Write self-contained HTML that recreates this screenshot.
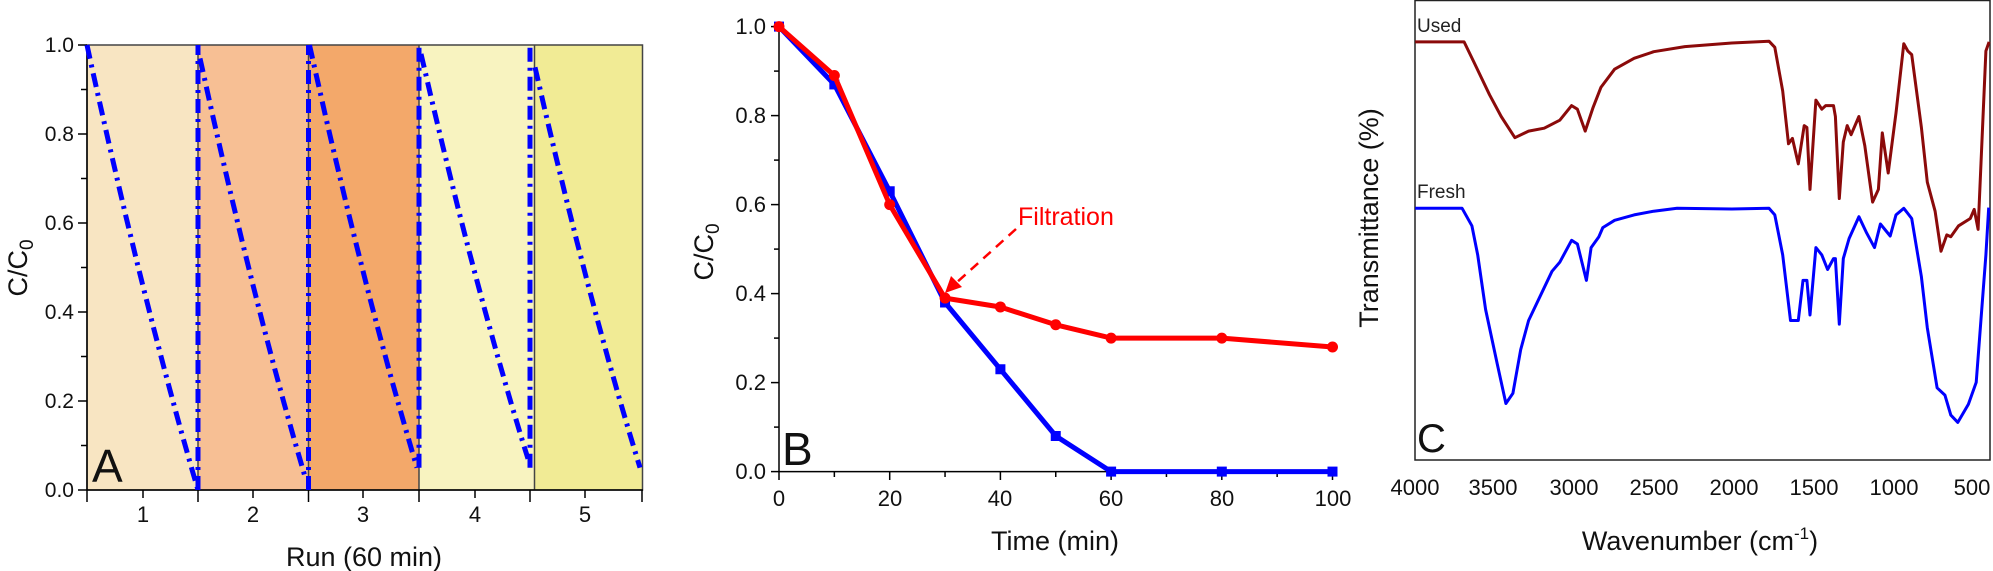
<!DOCTYPE html>
<html><head><meta charset="utf-8">
<style>
html,body{margin:0;padding:0;background:#fff;}
svg{display:block;font-family:"Liberation Sans",Arial,sans-serif;}
</style></head>
<body>
<svg id="s" width="1993" height="571" viewBox="0 0 1993 571" xmlns="http://www.w3.org/2000/svg">
<!-- Panel A backgrounds -->
<rect x="87" y="45" width="111" height="445" fill="#f8e5c2"/>
<rect x="198" y="45" width="110.5" height="445" fill="#f7bf94"/>
<rect x="308.5" y="45" width="110.5" height="445" fill="#f3a86a"/>
<rect x="419" y="45" width="111" height="445" fill="#f8f3c0"/>
<rect x="534.5" y="45" width="108" height="445" fill="#f1eb95"/>
<rect x="530" y="45" width="4.5" height="445" fill="#f8f3c0"/>
<g stroke="#444" stroke-width="1.5" fill="none">
<rect x="87" y="45" width="555.5" height="445"/>
<line x1="198" y1="45" x2="198" y2="490"/>
<line x1="308.5" y1="45" x2="308.5" y2="490"/>
<line x1="419" y1="45" x2="419" y2="490"/>
<line x1="534.5" y1="45" x2="534.5" y2="490"/>
</g>
<g id="aAxes" stroke="#000" stroke-width="1.5"></g>
<g id="aCurves" fill="none" stroke="#0000ff" stroke-width="5" stroke-dasharray="14,6,3,6"></g>
<g font-size="21" fill="#111" text-anchor="end">
<text x="74" y="52">1.0</text><text x="74" y="141">0.8</text><text x="74" y="230">0.6</text><text x="74" y="319">0.4</text><text x="74" y="408">0.2</text><text x="74" y="497">0.0</text>
</g>
<g font-size="22" fill="#111" text-anchor="middle">
<text x="143" y="522">1</text><text x="253" y="522">2</text><text x="363" y="522">3</text><text x="475" y="522">4</text><text x="585" y="522">5</text>
</g>
<text x="364" y="566" font-size="27" text-anchor="middle" fill="#111">Run (60 min)</text>
<text transform="translate(27,268) rotate(-90)" font-size="27" text-anchor="middle" fill="#111">C/C<tspan font-size="19" dy="6">0</tspan></text>
<text x="92" y="482" font-size="46" fill="#111">A</text>

<!-- Panel B -->
<g id="bAxes" stroke="#000" stroke-width="1.5"></g>
<g font-size="22" fill="#111" text-anchor="end">
<text x="766" y="34">1.0</text><text x="766" y="123">0.8</text><text x="766" y="212">0.6</text><text x="766" y="301">0.4</text><text x="766" y="390">0.2</text><text x="766" y="479">0.0</text>
</g>
<g font-size="22" fill="#111" text-anchor="middle">
<text x="779" y="506">0</text><text x="890" y="506">20</text><text x="1000" y="506">40</text><text x="1111" y="506">60</text><text x="1222" y="506">80</text><text x="1333" y="506">100</text>
</g>
<text x="1055" y="550" font-size="27" text-anchor="middle" fill="#111">Time (min)</text>
<text transform="translate(713,252) rotate(-90)" font-size="27" text-anchor="middle" fill="#111">C/C<tspan font-size="19" dy="6">0</tspan></text>
<text x="782" y="465" font-size="46" fill="#111">B</text>
<g id="bData"></g>
<text x="1018" y="225" font-size="25" fill="#ff0000">Filtration</text>
<line x1="1016" y1="229" x2="955" y2="284" stroke="#ff0000" stroke-width="2.5" stroke-dasharray="10,7"/>
<polygon points="945,293 951,276 962,287" fill="#ff0000"/>
<text transform="translate(1378,218) rotate(-90)" font-size="27" text-anchor="middle" fill="#111">Transmittance (%)</text>

<!-- Panel C -->
<rect x="1415" y="0.5" width="575" height="459.5" fill="none" stroke="#222" stroke-width="1.5"/>
<g id="cData" fill="none" stroke-width="3" stroke-linejoin="round"></g>
<text x="1417" y="32" font-size="19" fill="#222">Used</text>
<text x="1417" y="198" font-size="19" fill="#222">Fresh</text>
<text x="1417" y="452" font-size="40" fill="#111">C</text>
<g font-size="22" fill="#111" text-anchor="middle">
<text x="1415" y="495">4000</text><text x="1493" y="495">3500</text><text x="1574" y="495">3000</text><text x="1654" y="495">2500</text><text x="1734" y="495">2000</text><text x="1814" y="495">1500</text><text x="1894" y="495">1000</text><text x="1972" y="495">500</text>
</g>
<text x="1700" y="550" font-size="27" text-anchor="middle" fill="#111">Wavenumber (cm<tspan font-size="17" dy="-11">-1</tspan><tspan dy="11">)</tspan></text>
</svg>
<script>
var NS="http://www.w3.org/2000/svg";
function el(p,t,a){var e=document.createElementNS(NS,t);for(var k in a)e.setAttribute(k,a[k]);p.appendChild(e);return e;}
// Panel A axes
var aA=document.getElementById('aAxes');
el(aA,'line',{x1:87,y1:45,x2:87,y2:490});
el(aA,'line',{x1:87,y1:490,x2:643,y2:490});
for(var i=0;i<=10;i++){var y=490-i*44.5;el(aA,'line',{x1:i%2?81:78,y1:y,x2:87,y2:y});}
[87,143,198,253,308.5,363,419,475,530,585,642].forEach(function(x,i){el(aA,'line',{x1:x,y1:490,x2:x,y2:i%2?498:502});});
// Panel A curves
var aC=document.getElementById('aCurves');
function ay(v){return 490-445*v;}
var runs=[[87,198,1.0,0.0],[200,305,0.97,0.03],[309.5,417,1.0,0.05],[421,528,0.98,0.07],[535,640,0.95,0.05]];
runs.forEach(function(r){var d='';for(var k=0;k<=20;k++){var t=k/20;var v=r[2]-(r[2]-r[3])*(1.15*t-0.15*t*t);d+=(k?'L':'M')+(r[0]+(r[1]-r[0])*t).toFixed(1)+','+ay(v).toFixed(1);}el(aC,'path',{d:d});});
[[198,0,1],[308.5,0,1],[419,0.05,1],[530,0.05,1]].forEach(function(v){el(aC,'line',{x1:v[0],y1:ay(v[1]),x2:v[0],y2:ay(v[2])});});
// Panel B axes
var bA=document.getElementById('bAxes');
el(bA,'line',{x1:779,y1:24,x2:779,y2:472});
el(bA,'line',{x1:779,y1:471.6,x2:1336,y2:471.6});
for(var i=0;i<=10;i++){var y=471.6-i*44.5;el(bA,'line',{x1:i%2?774:771,y1:y,x2:779,y2:y});}
for(var i=0;i<=10;i++){var x=779+i*55.35;el(bA,'line',{x1:x,y1:471.6,x2:x,y2:i%2?477:480});}
var bD=document.getElementById('bData');
function bx(t){return 779+5.535*t;}function by(v){return 471.6-445*v;}
var T=[0,10,20,30,40,50,60,80,100];
var blue=[1,0.87,0.63,0.38,0.23,0.08,0,0,0],red=[1,0.89,0.60,0.39,0.37,0.33,0.30,0.30,0.28];
function poly(arr,c){var p=T.map(function(t,i){return bx(t).toFixed(1)+','+by(arr[i]).toFixed(1);}).join(' ');el(bD,'polyline',{points:p,fill:'none',stroke:c,'stroke-width':5,'stroke-linejoin':'round'});}
poly(blue,'#0000ff');
T.forEach(function(t,i){el(bD,'rect',{x:bx(t)-5,y:by(blue[i])-5,width:10,height:10,fill:'#0000ff'});});
poly(red,'#ff0000');
T.forEach(function(t,i){el(bD,'circle',{cx:bx(t),cy:by(red[i]),r:5.5,fill:'#ff0000'});});
// Panel C
var cD=document.getElementById('cData');
function cp(pts){return pts.map(function(p){return (1380+p[0]/2.558).toFixed(1)+','+(p[1]/2.746).toFixed(1);}).join(' ');}
var used=[[90,115],[215,115],[240,170],[280,260],[310,320],[345,378],[380,360],[420,352],[460,330],[490,290],[505,300],[525,360],[545,295],[565,240],[600,190],[650,160],[700,142],[780,128],[900,118],[995,113],[1010,130],[1030,250],[1045,395],[1055,380],[1070,450],[1085,345],[1092,350],[1100,520],[1115,275],[1130,300],[1140,290],[1160,290],[1165,320],[1175,545],[1185,390],[1195,345],[1205,370],[1225,320],[1240,400],[1260,555],[1275,520],[1285,365],[1300,475],[1320,310],[1340,120],[1350,140],[1360,150],[1385,350],[1400,500],[1420,580],[1435,690],[1450,645],[1460,650],[1480,620],[1510,600],[1520,575],[1530,630],[1550,140],[1558,115]];
var fresh=[[90,572],[210,572],[235,620],[250,700],[270,850],[300,1000],[322,1108],[340,1080],[360,960],[380,880],[420,790],[440,745],[460,720],[490,660],[505,670],[528,770],[540,680],[560,650],[570,625],[600,605],[650,590],[700,580],[760,572],[900,574],[995,572],[1010,590],[1030,700],[1050,880],[1070,880],[1082,770],[1092,770],[1100,865],[1115,680],[1130,700],[1145,740],[1160,710],[1165,710],[1175,890],[1185,710],[1200,655],[1225,595],[1245,640],[1265,680],[1280,615],[1305,648],[1320,590],[1340,572],[1360,600],[1385,760],[1400,900],[1425,1065],[1445,1085],[1460,1140],[1478,1160],[1505,1110],[1525,1050],[1550,700],[1557,570]];
el(cD,'polyline',{points:cp(used),stroke:'#8b0a0a'});
el(cD,'polyline',{points:cp(fresh),stroke:'#0000ff'});
</script>
</body></html>
